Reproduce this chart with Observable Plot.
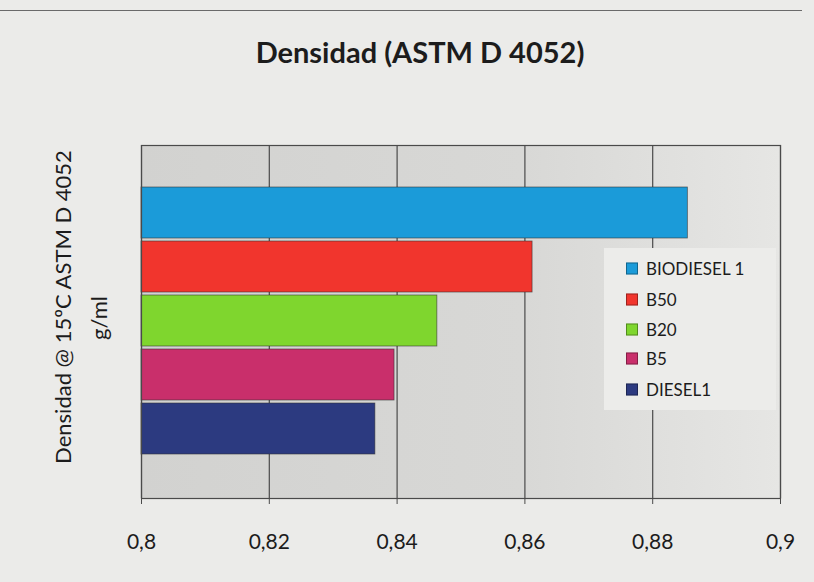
<!DOCTYPE html>
<html>
<head>
<meta charset="utf-8">
<script src="https://cdn.jsdelivr.net/npm/d3@7"></script>
<script src="https://cdn.jsdelivr.net/npm/@observablehq/plot@0.6"></script>
<style>
  html, body { margin: 0; padding: 0; background: #ebebe9; }
  #wrap { position: relative; width: 814px; height: 582px; overflow: hidden; font-family: Lato, "Open Sans", sans-serif; color: #1c1c1c; }
  #topline { position: absolute; left: 0; top: 10px; width: 802px; height: 0; border-top: 1.5px solid #6a6a6a; }
  #title { position: absolute; left: 0; width: 840px; top: 34px; text-align: center; font-weight: 700; font-size: 29px; }
  .ylab { position: absolute; white-space: nowrap; transform: translate(-50%, -50%) rotate(-90deg); font-size: 22px; }
  #legend { position: absolute; left: 604px; top: 248px; width: 172px; height: 162px; background: #ececea; }
  .item { position: absolute; left: 22px; display: flex; align-items: center; font-size: 17px; transform: translateY(-50%); }
  .sw { width: 10px; height: 10px; margin-right: 8px; border: 1px solid rgba(0,0,0,0.35); }
  svg { position: absolute; left: 0; top: 0; }
</style>
</head>
<body>
<div id="wrap">
  <div id="topline"></div>
  <div id="title">Densidad (ASTM D 4052)</div>
  <div class="ylab" style="left:62px; top:307px;">Densidad @ 15ºC ASTM D 4052</div>
  <div class="ylab" style="left:98px; top:318px;">g/ml</div>
</div>
<script>
const series = ["BIODIESEL 1", "B50", "B20", "B5", "DIESEL1"];
const values = [0.8855, 0.8612, 0.8463, 0.8396, 0.8366];
const colors = ["#1b9bd9", "#f1352d", "#7fd62e", "#c92f6b", "#2c3a80"];
const ticks = [0.8, 0.82, 0.84, 0.86, 0.88, 0.9];

const data = series.map((s, i) => ({series: s, value: values[i]}));
const fmt = d => String(+d.toFixed(2)).replace(".", ",");

const chart = Plot.plot({
  width: 814,
  height: 582,
  marginTop: 145,
  marginBottom: 84,
  marginLeft: 141,
  marginRight: 34,
  style: {background: "transparent", fontFamily: "Lato, 'Open Sans', sans-serif"},
  x: {domain: [0.8, 0.9], ticks: ticks, axis: null},
  y: {domain: series, axis: null, paddingInner: 0.06, paddingOuter: 0, insetTop: 40, insetBottom: 42},
  color: {domain: series, range: colors},
  marks: [
    Plot.frame({fill: "url(#plotbg)", stroke: null}),
    Plot.ruleX(ticks, {stroke: "#4a4a4a", strokeWidth: 1.2}),
    Plot.barX(data, {y: "series", x1: 0.8, x2: "value", fill: "series", stroke: "#333", strokeWidth: 0.8, strokeOpacity: 0.7}),
    Plot.frame({stroke: "#4a4a4a", strokeWidth: 1.2}),
    Plot.axisX({ticks: ticks, tickFormat: fmt, tickSize: 6, tickPadding: 30, fontSize: 21, stroke: "#4a4a4a", color: "#1c1c1c", label: null})
  ]
});

const defs = d3.select(chart).insert("defs", ":first-child");
const g = defs.append("linearGradient").attr("id", "plotbg").attr("x1", "0").attr("y1", "0").attr("x2", "1").attr("y2", "0");
g.append("stop").attr("offset", "0").attr("stop-color", "#d2d2d0");
g.append("stop").attr("offset", "0.6").attr("stop-color", "#d8d8d6");
g.append("stop").attr("offset", "1").attr("stop-color", "#e6e6e4");

const wrap = document.getElementById("wrap");
wrap.insertBefore(chart, wrap.firstChild);

const legend = document.createElement("div");
legend.id = "legend";
const rowY = [20, 51, 81, 110, 141];
series.forEach((s, i) => {
  const it = document.createElement("div");
  it.className = "item";
  it.style.top = rowY[i] + "px";
  it.innerHTML = `<span class="sw" style="background:${colors[i]}"></span><span>${s}</span>`;
  legend.appendChild(it);
});
wrap.appendChild(legend);
</script>
</body>
</html>
